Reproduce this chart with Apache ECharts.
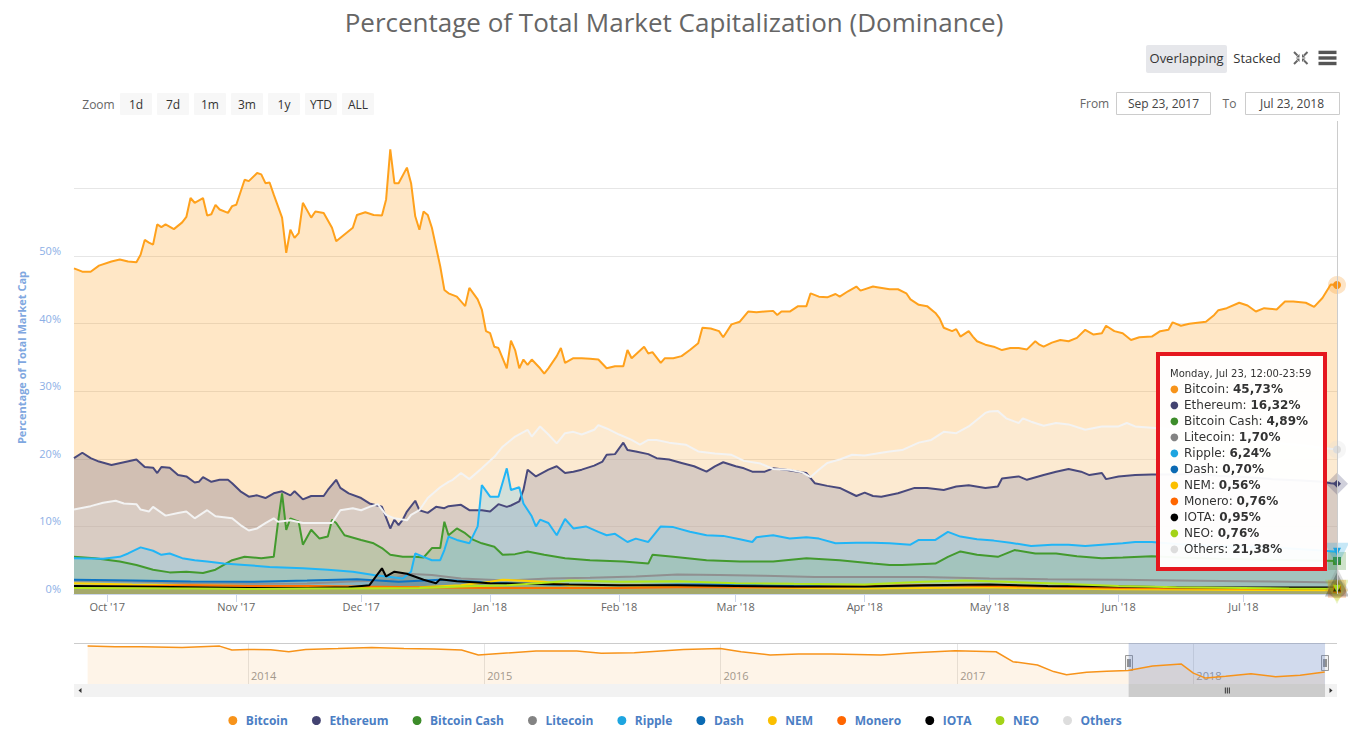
<!DOCTYPE html>
<html>
<head>
<meta charset="utf-8">
<script src="https://cdn.jsdelivr.net/npm/echarts@6/dist/echarts.min.js"></script>
<style>
html,body{margin:0;padding:0;background:#fff;}
#chart{width:1348px;height:738px;}
</style>
</head>
<body>
<div id="chart"></div>
<script>
// ---------------- DATA ----------------
const chartTitle = 'Percentage of Total Market Capitalization (Dominance)';
const yAxisTitle = 'Percentage of Total Market Cap';
const seriesNames = ['Bitcoin','Ethereum','Bitcoin Cash','Litecoin','Ripple','Dash','NEM','Monero','IOTA','NEO','Others'];
const seriesColors = ['#f7931a','#434371','#3d8c2a','#838383','#1ea5e0','#0b6ab3','#fbbf00','#ff6600','#000000','#a3d318','#dddddd'];
const seriesSymbols = ['circle','diamond','rect','triangle','path://M0,0L10,0L5,10Z','circle','diamond','rect','triangle','path://M0,0L10,0L5,10Z','circle'];

const bitcoin = [['2017-09-23',48.2],['2017-09-25',47.7],['2017-09-27',47.7],['2017-09-29',48.6],['2017-10-02',49.2],['2017-10-04',49.5],['2017-10-06',49.2],['2017-10-08',49.1],['2017-10-09',50.2],['2017-10-10',52.4],['2017-10-11',52.0],['2017-10-12',51.7],['2017-10-13',54.7],['2017-10-14',54.3],['2017-10-15',54.7],['2017-10-17',54.0],['2017-10-19',55.0],['2017-10-20',55.8],['2017-10-21',58.6],['2017-10-22',57.9],['2017-10-24',58.6],['2017-10-25',56.0],['2017-10-26',56.2],['2017-10-27',57.6],['2017-10-28',56.9],['2017-10-30',56.4],['2017-10-31',57.4],['2017-11-01',57.6],['2017-11-03',61.3],['2017-11-04',61.1],['2017-11-06',62.3],['2017-11-07',62.1],['2017-11-08',60.8],['2017-11-09',60.9],['2017-11-10',59.1],['2017-11-12',55.7],['2017-11-13',50.5],['2017-11-14',53.9],['2017-11-15',52.7],['2017-11-16',53.4],['2017-11-17',57.9],['2017-11-19',55.7],['2017-11-20',56.6],['2017-11-22',56.4],['2017-11-24',54.2],['2017-11-25',52.2],['2017-11-27',53.2],['2017-11-29',54.2],['2017-11-30',56.1],['2017-12-02',56.5],['2017-12-04',56.1],['2017-12-06',56.0],['2017-12-07',58.4],['2017-12-08',65.8],['2017-12-09',60.8],['2017-12-10',60.8],['2017-12-12',63.1],['2017-12-13',60.8],['2017-12-14',55.9],['2017-12-15',53.9],['2017-12-16',56.6],['2017-12-17',56.1],['2017-12-18',54.2],['2017-12-20',48.5],['2017-12-21',45.0],['2017-12-22',44.5],['2017-12-24',44.0],['2017-12-26',42.6],['2017-12-27',45.3],['2017-12-29',43.6],['2017-12-30',42.1],['2017-12-31',38.9],['2018-01-01',38.6],['2018-01-02',36.6],['2018-01-03',36.4],['2018-01-05',33.4],['2018-01-06',37.5],['2018-01-07',36.1],['2018-01-08',33.4],['2018-01-09',34.7],['2018-01-10',33.9],['2018-01-11',34.7],['2018-01-13',33.4],['2018-01-14',32.6],['2018-01-15',33.4],['2018-01-17',35.2],['2018-01-18',36.4],['2018-01-19',34.2],['2018-01-21',34.9],['2018-01-23',34.9],['2018-01-25',34.8],['2018-01-27',34.7],['2018-01-29',33.4],['2018-01-31',33.7],['2018-02-02',33.7],['2018-02-03',36.1],['2018-02-04',34.9],['2018-02-07',36.6],['2018-02-08',35.6],['2018-02-09',35.8],['2018-02-11',34.2],['2018-02-12',34.9],['2018-02-14',34.9],['2018-02-16',35.2],['2018-02-18',36.1],['2018-02-20',37.1],['2018-02-21',39.4],['2018-02-23',39.3],['2018-02-25',38.9],['2018-02-26',38.0],['2018-02-28',39.9],['2018-03-02',40.3],['2018-03-04',41.8],['2018-03-06',41.7],['2018-03-08',41.8],['2018-03-10',41.9],['2018-03-11',41.3],['2018-03-12',41.8],['2018-03-14',41.8],['2018-03-16',42.6],['2018-03-18',42.6],['2018-03-19',44.5],['2018-03-21',44.0],['2018-03-23',43.9],['2018-03-25',44.4],['2018-03-26',44.0],['2018-03-28',44.8],['2018-03-30',45.5],['2018-03-31',44.9],['2018-04-03',45.5],['2018-04-04',45.4],['2018-04-07',45.1],['2018-04-09',45.1],['2018-04-11',44.5],['2018-04-12',43.6],['2018-04-14',42.8],['2018-04-16',42.6],['2018-04-18',41.6],['2018-04-19',40.8],['2018-04-20',39.4],['2018-04-22',38.9],['2018-04-23',39.2],['2018-04-24',38.1],['2018-04-26',38.9],['2018-04-27',38.1],['2018-04-28',37.4],['2018-04-30',36.9],['2018-05-02',36.6],['2018-05-04',36.1],['2018-05-06',36.4],['2018-05-08',36.4],['2018-05-10',36.2],['2018-05-12',37.4],['2018-05-13',36.9],['2018-05-14',36.6],['2018-05-16',37.2],['2018-05-18',37.6],['2018-05-20',37.4],['2018-05-22',37.9],['2018-05-24',39.1],['2018-05-26',38.4],['2018-05-28',38.6],['2018-05-29',39.7],['2018-05-31',38.9],['2018-06-02',38.6],['2018-06-04',37.6],['2018-06-06',38.0],['2018-06-09',38.1],['2018-06-11',38.9],['2018-06-13',39.1],['2018-06-14',40.2],['2018-06-16',39.7],['2018-06-18',40.0],['2018-06-22',40.3],['2018-06-24',41.3],['2018-06-25',42.0],['2018-06-27',42.3],['2018-06-30',43.1],['2018-07-02',42.7],['2018-07-04',41.8],['2018-07-06',42.3],['2018-07-09',42.1],['2018-07-11',43.3],['2018-07-13',43.3],['2018-07-16',43.1],['2018-07-18',42.5],['2018-07-20',43.8],['2018-07-22',45.8],['2018-07-23 12:00',45.73]];

const ethereum = [['2017-09-23',20.1],['2017-09-25',20.9],['2017-09-27',20.1],['2017-09-29',19.6],['2017-10-02',19.1],['2017-10-05',19.5],['2017-10-08',19.9],['2017-10-10',18.8],['2017-10-12',18.7],['2017-10-13',17.9],['2017-10-14',18.8],['2017-10-16',18.7],['2017-10-18',17.6],['2017-10-20',17.4],['2017-10-22',16.5],['2017-10-23',16.6],['2017-10-24',17.3],['2017-10-26',16.6],['2017-10-28',16.9],['2017-10-30',16.9],['2017-10-31',16.4],['2017-11-02',15.2],['2017-11-04',14.4],['2017-11-06',14.6],['2017-11-08',14.2],['2017-11-10',14.9],['2017-11-12',15.2],['2017-11-14',14.6],['2017-11-15',15.2],['2017-11-17',14.0],['2017-11-19',14.5],['2017-11-22',14.5],['2017-11-23',15.4],['2017-11-25',16.9],['2017-11-26',15.7],['2017-11-28',14.9],['2017-12-01',14.2],['2017-12-03',13.4],['2017-12-06',12.9],['2017-12-08',9.7],['2017-12-09',11.0],['2017-12-10',10.2],['2017-12-11',11.0],['2017-12-12',12.2],['2017-12-14',13.8],['2017-12-15',12.4],['2017-12-17',12.0],['2017-12-19',12.9],['2017-12-21',12.7],['2017-12-22',13.0],['2017-12-25',13.2],['2017-12-27',12.4],['2017-12-30',12.4],['2018-01-01',12.2],['2018-01-03',13.3],['2018-01-05',12.9],['2018-01-06',13.1],['2018-01-08',13.7],['2018-01-09',15.4],['2018-01-10',18.4],['2018-01-12',17.4],['2018-01-15',18.4],['2018-01-17',18.9],['2018-01-19',17.9],['2018-01-21',18.1],['2018-01-23',18.4],['2018-01-26',19.0],['2018-01-28',19.6],['2018-01-29',20.6],['2018-01-31',20.7],['2018-02-02',22.4],['2018-02-03',21.3],['2018-02-05',21.1],['2018-02-08',20.7],['2018-02-10',20.1],['2018-02-13',19.9],['2018-02-16',19.4],['2018-02-19',18.9],['2018-02-22',18.1],['2018-02-24',18.9],['2018-02-26',19.5],['2018-03-01',18.9],['2018-03-03',18.6],['2018-03-05',18.1],['2018-03-08',18.1],['2018-03-10',18.6],['2018-03-13',18.4],['2018-03-16',18.1],['2018-03-18',17.9],['2018-03-20',16.4],['2018-03-23',16.0],['2018-03-26',15.7],['2018-03-30',14.5],['2018-04-01',15.0],['2018-04-03',14.5],['2018-04-05',14.4],['2018-04-09',14.9],['2018-04-13',15.7],['2018-04-16',15.7],['2018-04-20',15.4],['2018-04-23',15.9],['2018-04-26',16.1],['2018-04-30',15.7],['2018-05-03',15.9],['2018-05-04',17.1],['2018-05-08',17.4],['2018-05-10',16.9],['2018-05-14',17.6],['2018-05-17',18.1],['2018-05-20',18.5],['2018-05-23',18.1],['2018-05-25',17.6],['2018-05-28',17.9],['2018-05-29',17.0],['2018-06-01',17.4],['2018-06-05',17.6],['2018-06-09',17.7],['2018-06-15',17.7],['2018-06-20',17.8],['2018-06-25',17.5],['2018-07-01',17.3],['2018-07-08',17.0],['2018-07-15',16.8],['2018-07-20',16.6],['2018-07-22',16.4],['2018-07-23 12:00',16.32]];

const bitcoinCash = [['2017-09-23',5.5],['2017-09-28',5.3],['2017-10-04',4.8],['2017-10-08',4.3],['2017-10-12',3.6],['2017-10-16',3.2],['2017-10-20',3.3],['2017-10-24',3.1],['2017-10-27',3.6],['2017-10-31',5.0],['2017-11-03',5.5],['2017-11-07',5.3],['2017-11-10',5.5],['2017-11-11',10.5],['2017-11-12',14.9],['2017-11-13',9.5],['2017-11-14',11.2],['2017-11-16',10.7],['2017-11-17',7.3],['2017-11-19',9.5],['2017-11-21',8.2],['2017-11-23',8.5],['2017-11-24',11.0],['2017-11-25',10.5],['2017-11-27',8.7],['2017-12-01',8.0],['2017-12-04',7.5],['2017-12-06',6.8],['2017-12-08',5.8],['2017-12-11',5.5],['2017-12-14',5.5],['2017-12-16',5.4],['2017-12-18',6.8],['2017-12-20',6.8],['2017-12-21',10.7],['2017-12-22',8.7],['2017-12-24',9.7],['2017-12-26',9.0],['2017-12-28',8.0],['2017-12-30',7.5],['2018-01-02',7.0],['2018-01-04',5.8],['2018-01-07',5.9],['2018-01-10',6.3],['2018-01-14',5.8],['2018-01-19',5.3],['2018-01-25',5.0],['2018-02-02',4.8],['2018-02-08',4.5],['2018-02-09',5.8],['2018-02-14',5.5],['2018-02-22',5.0],['2018-03-02',4.8],['2018-03-10',4.8],['2018-03-18',5.3],['2018-03-26',5.0],['2018-04-03',4.5],['2018-04-07',4.3],['2018-04-10',4.3],['2018-04-18',4.5],['2018-04-21',5.5],['2018-04-24',6.3],['2018-04-28',5.8],['2018-05-03',5.5],['2018-05-07',6.5],['2018-05-12',6.0],['2018-05-17',6.0],['2018-05-22',5.6],['2018-05-28',5.3],['2018-06-02',5.4],['2018-06-09',5.6],['2018-06-16',5.4],['2018-06-25',5.2],['2018-07-05',5.1],['2018-07-15',5.0],['2018-07-23 12:00',4.89]];

const litecoin = [['2017-09-23',1.95],['2017-10-07',1.85],['2017-10-21',1.6],['2017-11-04',1.5],['2017-11-18',1.55],['2017-11-30',1.9],['2017-12-08',2.0],['2017-12-12',3.0],['2017-12-18',2.8],['2017-12-25',2.3],['2018-01-05',2.0],['2018-01-15',2.3],['2018-01-25',2.4],['2018-02-05',2.6],['2018-02-15',2.9],['2018-02-25',2.8],['2018-03-08',2.7],['2018-03-20',2.5],['2018-04-01',2.5],['2018-04-15',2.5],['2018-05-01',2.3],['2018-05-15',2.2],['2018-06-01',2.1],['2018-06-15',2.0],['2018-07-01',1.9],['2018-07-12',1.8],['2018-07-23 12:00',1.70]];

const ripple = [['2017-09-23',5.3],['2017-09-30',5.2],['2017-10-04',5.5],['2017-10-06',6.0],['2017-10-09',6.9],['2017-10-12',6.4],['2017-10-14',5.8],['2017-10-16',6.0],['2017-10-19',5.3],['2017-10-22',5.0],['2017-10-25',4.8],['2017-10-29',4.5],['2017-11-03',4.3],['2017-11-09',4.0],['2017-11-17',3.8],['2017-11-23',3.6],['2017-11-29',3.3],['2017-12-04',2.8],['2017-12-11',2.3],['2017-12-13',3.3],['2017-12-14',6.0],['2017-12-16',5.5],['2017-12-18',5.0],['2017-12-20',5.0],['2017-12-21',6.5],['2017-12-22',8.5],['2017-12-24',8.0],['2017-12-27',7.5],['2017-12-29',10.0],['2017-12-30',16.1],['2018-01-01',14.4],['2018-01-03',14.4],['2018-01-05',18.6],['2018-01-06',15.4],['2018-01-08',15.8],['2018-01-09',13.4],['2018-01-11',11.5],['2018-01-12',10.0],['2018-01-13',11.0],['2018-01-15',10.5],['2018-01-17',8.7],['2018-01-19',11.1],['2018-01-21',9.7],['2018-01-24',10.0],['2018-01-27',9.2],['2018-01-29',8.7],['2018-01-31',8.9],['2018-02-03',7.7],['2018-02-05',8.2],['2018-02-08',7.7],['2018-02-11',10.0],['2018-02-14',9.9],['2018-02-18',9.2],['2018-02-22',8.7],['2018-02-26',8.6],['2018-03-02',8.1],['2018-03-05',7.7],['2018-03-06',8.4],['2018-03-10',8.7],['2018-03-14',8.2],['2018-03-18',8.4],['2018-03-21',8.2],['2018-03-25',7.5],['2018-03-30',7.6],['2018-04-03',7.6],['2018-04-07',7.5],['2018-04-12',7.3],['2018-04-14',8.0],['2018-04-18',8.0],['2018-04-21',9.2],['2018-04-24',8.5],['2018-04-28',8.1],['2018-05-02',7.9],['2018-05-06',7.6],['2018-05-11',7.1],['2018-05-16',7.3],['2018-05-20',7.3],['2018-05-24',7.1],['2018-05-28',7.3],['2018-06-02',7.5],['2018-06-05',7.7],['2018-06-09',7.7],['2018-06-15',7.4],['2018-06-22',7.2],['2018-07-01',7.0],['2018-07-10',6.8],['2018-07-18',6.5],['2018-07-23 12:00',6.24]];

const dash = [['2017-09-23',2.1],['2017-10-07',2.0],['2017-10-21',1.85],['2017-11-04',1.8],['2017-11-18',2.0],['2017-11-30',2.2],['2017-12-10',1.8],['2017-12-20',2.1],['2018-01-01',1.7],['2018-01-15',1.4],['2018-02-01',1.3],['2018-02-15',1.4],['2018-03-01',1.4],['2018-03-15',1.2],['2018-04-01',1.1],['2018-04-15',1.0],['2018-05-01',1.1],['2018-05-15',1.1],['2018-06-01',0.9],['2018-06-15',0.85],['2018-07-01',0.8],['2018-07-12',0.75],['2018-07-23 12:00',0.70]];

const nem = [['2017-09-23',1.6],['2017-10-07',1.4],['2017-10-21',1.3],['2017-11-04',1.2],['2017-11-18',1.1],['2017-12-01',1.0],['2017-12-15',1.0],['2017-12-25',1.3],['2018-01-01',1.8],['2018-01-04',2.1],['2018-01-08',2.0],['2018-01-14',1.8],['2018-01-20',1.3],['2018-02-01',1.3],['2018-02-15',1.2],['2018-03-01',1.0],['2018-03-15',0.9],['2018-04-01',0.8],['2018-04-15',0.9],['2018-05-01',1.0],['2018-05-15',0.8],['2018-06-01',0.7],['2018-06-15',0.65],['2018-07-01',0.6],['2018-07-23 12:00',0.56]];

const monero = [['2017-09-23',1.1],['2017-10-07',1.1],['2017-10-21',1.3],['2017-11-04',1.2],['2017-11-18',1.2],['2017-12-01',1.1],['2017-12-15',1.0],['2018-01-01',0.9],['2018-01-15',0.9],['2018-02-01',0.9],['2018-02-15',1.0],['2018-03-01',1.0],['2018-03-15',1.0],['2018-04-01',1.2],['2018-04-15',1.3],['2018-05-01',1.2],['2018-05-15',1.1],['2018-06-01',0.9],['2018-06-15',0.85],['2018-07-01',0.8],['2018-07-23 12:00',0.76]];

const iota = [['2017-09-23',1.2],['2017-10-07',1.1],['2017-10-21',1.0],['2017-11-04',0.9],['2017-11-18',0.9],['2017-11-28',1.0],['2017-12-03',1.3],['2017-12-06',3.8],['2017-12-07',2.6],['2017-12-09',3.3],['2017-12-12',3.0],['2017-12-16',2.1],['2017-12-19',1.6],['2017-12-20',2.2],['2017-12-24',1.9],['2018-01-01',1.6],['2018-01-10',1.5],['2018-01-20',1.4],['2018-02-01',1.3],['2018-02-15',1.3],['2018-03-01',1.2],['2018-03-15',1.1],['2018-04-01',1.1],['2018-04-15',1.3],['2018-05-01',1.4],['2018-05-15',1.2],['2018-06-01',1.1],['2018-06-15',1.0],['2018-07-01',0.98],['2018-07-23 12:00',0.95]];

const neo = [['2017-09-23',0.9],['2017-10-07',0.85],['2017-10-21',0.8],['2017-11-04',0.75],['2017-11-18',0.8],['2017-12-01',0.8],['2017-12-15',0.9],['2017-12-25',1.1],['2018-01-05',1.3],['2018-01-15',1.7],['2018-01-20',2.0],['2018-02-01',1.8],['2018-02-15',1.9],['2018-03-01',1.6],['2018-03-15',1.5],['2018-04-01',1.4],['2018-04-15',1.8],['2018-04-25',2.0],['2018-05-05',1.8],['2018-05-15',1.6],['2018-06-01',1.2],['2018-06-15',1.0],['2018-07-01',0.9],['2018-07-12',0.8],['2018-07-23 12:00',0.76]];

const others = [['2017-09-23',12.5],['2017-09-27',13.0],['2017-09-30',13.5],['2017-10-03',13.8],['2017-10-05',13.4],['2017-10-08',13.3],['2017-10-09',12.5],['2017-10-11',12.2],['2017-10-12',12.9],['2017-10-15',11.6],['2017-10-18',12.0],['2017-10-20',12.2],['2017-10-22',11.2],['2017-10-25',12.4],['2017-10-27',11.5],['2017-10-31',11.2],['2017-11-02',10.2],['2017-11-04',9.4],['2017-11-06',9.7],['2017-11-08',10.5],['2017-11-10',11.2],['2017-11-11',10.7],['2017-11-14',10.9],['2017-11-17',10.5],['2017-11-20',10.5],['2017-11-24',10.5],['2017-11-26',12.4],['2017-11-29',12.7],['2017-12-01',12.4],['2017-12-03',12.9],['2017-12-05',13.3],['2017-12-07',11.7],['2017-12-09',11.2],['2017-12-12',10.9],['2017-12-13',11.7],['2017-12-15',12.4],['2017-12-17',14.2],['2017-12-20',15.8],['2017-12-22',16.6],['2017-12-23',16.9],['2017-12-25',17.9],['2017-12-27',17.0],['2017-12-30',18.6],['2018-01-02',20.3],['2018-01-04',21.8],['2018-01-06',22.8],['2018-01-07',23.3],['2018-01-10',24.3],['2018-01-11',23.3],['2018-01-13',24.8],['2018-01-15',23.6],['2018-01-17',22.3],['2018-01-19',23.8],['2018-01-21',24.0],['2018-01-23',23.6],['2018-01-26',24.3],['2018-01-27',25.0],['2018-01-29',24.5],['2018-02-01',23.6],['2018-02-04',22.8],['2018-02-06',22.1],['2018-02-08',22.8],['2018-02-10',22.8],['2018-02-13',22.4],['2018-02-17',22.1],['2018-02-20',21.1],['2018-02-24',20.8],['2018-02-28',20.6],['2018-03-03',19.7],['2018-03-07',19.3],['2018-03-10',18.5],['2018-03-14',18.4],['2018-03-17',18.0],['2018-03-19',17.3],['2018-03-21',18.4],['2018-03-23',19.4],['2018-03-26',19.9],['2018-03-29',20.6],['2018-04-01',20.5],['2018-04-05',20.9],['2018-04-07',21.1],['2018-04-10',21.3],['2018-04-14',22.4],['2018-04-17',22.8],['2018-04-20',24.0],['2018-04-23',23.8],['2018-04-26',24.8],['2018-04-30',26.8],['2018-05-01',27.0],['2018-05-03',27.1],['2018-05-05',26.0],['2018-05-08',25.3],['2018-05-09',26.0],['2018-05-11',25.5],['2018-05-14',24.9],['2018-05-17',25.3],['2018-05-20',25.1],['2018-05-24',24.3],['2018-05-28',24.8],['2018-06-01',24.8],['2018-06-03',25.3],['2018-06-05',24.8],['2018-06-09',24.6],['2018-06-15',24.3],['2018-06-20',23.8],['2018-06-25',23.3],['2018-07-01',22.8],['2018-07-08',22.4],['2018-07-15',22.0],['2018-07-20',21.6],['2018-07-23 12:00',21.38]];

const seriesData = [bitcoin, ethereum, bitcoinCash, litecoin, ripple, dash, nem, monero, iota, neo, others];

// long-range Bitcoin dominance shown in the navigator
const bitcoinHistory = [['2013-04-28',95.0],['2013-06-10',94.0],['2013-07-20',93.7],['2013-09-21',92.5],['2013-11-18',95.0],['2013-12-07',87.4],['2014-01-01',88.7],['2014-02-05',88.0],['2014-03-05',84.1],['2014-03-31',88.7],['2014-05-20',90.5],['2014-07-11',92.5],['2014-08-30',90.6],['2014-10-15',89.5],['2014-11-27',87.4],['2014-12-23',77.8],['2015-01-30',81.1],['2015-03-22',85.5],['2015-05-24',85.5],['2015-07-01',81.1],['2015-08-21',82.2],['2015-11-05',88.7],['2016-01-01',90.6],['2016-02-02',84.1],['2016-03-18',77.8],['2016-05-01',79.7],['2016-06-21',79.7],['2016-09-05',77.8],['2016-10-26',82.2],['2016-12-29',86.0],['2017-03-02',84.1],['2017-03-28',65.0],['2017-05-05',58.7],['2017-05-30',45.9],['2017-06-19',39.7],['2017-07-20',44.8],['2017-08-20',46.5],['2017-09-22',47.9],['2017-10-30',56.8],['2017-12-13',60.6],['2018-01-01',42.9],['2018-01-20',33.4],['2018-02-20',37.0],['2018-03-31',41.6],['2018-05-08',36.0],['2018-06-15',39.0],['2018-07-23',45.0]];

const monthTicks = ['2017-10-01','2017-11-01','2017-12-01','2018-01-01','2018-02-01','2018-03-01','2018-04-01','2018-05-01','2018-06-01','2018-07-01'];
const yearTicks = ['2014-01-01','2015-01-01','2016-01-01','2017-01-01','2018-01-01'];
const monthNames = ['Jan','Feb','Mar','Apr','May','Jun','Jul','Aug','Sep','Oct','Nov','Dec'];
const viewStart = '2017-09-23';
const viewEnd = '2018-07-23 12:00';
const navStart = '2013-04-07';
const navEnd = '2018-08-11';
const yMax = 70, yStep = 10, yLabelMax = 50;
const zoomButtons = ['1d','7d','1m','3m','1y','YTD','ALL'];
const modeButtons = ['Overlapping','Stacked'];
const fromText = 'Sep 23, 2017';
const toText = 'Jul 23, 2018';
const tooltipHeader = 'Monday, Jul 23, 12:00-23:59';

// ---------------- CHART ----------------
const FONT = '"Open Sans", sans-serif';
const chart = echarts.init(document.getElementById('chart'), null, {renderer: 'svg'});

function ts(s) {
  const p = s.split(/[- :]/).map(Number);
  return new Date(p[0], p[1] - 1, p[2], p[3] || 0, p[4] || 0).getTime();
}
function toPoints(arr) { return arr.map(d => [ts(d[0]), d[1]]); }
function rgba(hex, a) {
  const n = parseInt(hex.slice(1), 16);
  return 'rgba(' + ((n >> 16) & 255) + ',' + ((n >> 8) & 255) + ',' + (n & 255) + ',' + a + ')';
}
function fmtPct(v) { return v.toFixed(2).replace('.', ',') + '%'; }

const mainSeries = seriesNames.map((name, i) => ({
  name: name,
  type: 'line',
  xAxisIndex: 0,
  yAxisIndex: 0,
  data: toPoints(seriesData[i]),
  showSymbol: false,
  symbol: seriesSymbols[i],
  symbolSize: 8,
  lineStyle: {width: 2, color: seriesColors[i]},
  itemStyle: {color: seriesColors[i], borderColor: '#fff', borderWidth: 1},
  areaStyle: {color: seriesColors[i], opacity: 0.25},
  emphasis: {
    scale: false,
    lineStyle: {width: 2},
    areaStyle: {opacity: 0.25},
    itemStyle: {borderColor: rgba(seriesColors[i], 0.25), borderWidth: 10}
  },
  animation: false
}));

const navSeries = {
  name: 'navigator',
  type: 'line',
  xAxisIndex: 1,
  yAxisIndex: 1,
  data: toPoints(bitcoinHistory),
  showSymbol: false,
  silent: true,
  lineStyle: {width: 1.5, color: '#f7931a'},
  areaStyle: {color: '#f7931a', opacity: 0.1},
  emphasis: {disabled: true},
  markArea: {
    silent: true,
    itemStyle: {color: 'rgba(102,133,194,0.3)'},
    data: [[{xAxis: ts(viewStart)}, {xAxis: ts(viewEnd)}]]
  },
  animation: false
};

function tooltipHtml() {
  let h = '<div style="font-size:10px;line-height:14px;height:14px;white-space:nowrap;color:#333">' + tooltipHeader + '</div>';
  seriesNames.forEach((n, i) => {
    const d = seriesData[i];
    const v = d[d.length - 1][1];
    h += '<div style="font-size:12px;line-height:16px;height:16px;overflow:hidden;white-space:nowrap;color:#333">' +
      '<span style="color:' + seriesColors[i] + ';display:inline-block;width:14px;font-size:10px;line-height:16px;vertical-align:top">\u25CF</span>' +
      n + ': <b>' + fmtPct(v) + '</b></div>';
  });
  return h;
}

const option = {
  animation: false,
  backgroundColor: '#ffffff',
  title: {
    text: chartTitle,
    left: 'center',
    top: 1,
    textStyle: {fontFamily: FONT, fontSize: 26, fontWeight: 'normal', color: '#666666', lineHeight: 32}
  },
  legend: {
    data: seriesNames,
    top: 709,
    left: 'center',
    icon: 'circle',
    itemWidth: 16,
    itemHeight: 11,
    itemGap: 22,
    selectedMode: false,
    textStyle: {fontFamily: FONT, fontSize: 12, fontWeight: 'bold', color: '#4b7ec4'}
  },
  grid: [
    {left: 74, right: 11, top: 121, bottom: 144, containLabel: false},
    {left: 74, right: 11, top: 643, height: 41, containLabel: false}
  ],
  tooltip: {
    trigger: 'axis',
    triggerOn: 'none',
    alwaysShowContent: true,
    position: [1156, 352],
    backgroundColor: 'rgba(255,255,255,0.96)',
    borderColor: '#e5171f',
    borderWidth: 4,
    padding: [11, 6, 6, 10],
    transitionDuration: 0,
    extraCssText: 'box-sizing:border-box;width:171px;height:219px;border-radius:0;box-shadow:none;',
    textStyle: {fontFamily: '"DejaVu Sans", sans-serif', fontSize: 12, color: '#333'},
    axisPointer: {type: 'line', lineStyle: {color: '#cccccc', width: 1, type: 'solid'}, animation: false},
    formatter: tooltipHtml
  },
  xAxis: [
    {
      type: 'value',
      gridIndex: 0,
      min: ts(viewStart),
      max: ts(viewEnd),
      axisLine: {show: true, lineStyle: {color: '#ccd6eb'}},
      axisTick: {show: true, customValues: monthTicks.map(ts), length: 8, lineStyle: {color: '#ccd6eb'}},
      axisLabel: {
        customValues: monthTicks.map(ts),
        color: '#666666',
        fontFamily: FONT,
        fontSize: 11,
        margin: 7,
        formatter: v => { const d = new Date(v); return monthNames[d.getMonth()] + " '" + String(d.getFullYear()).slice(2); }
      },
      splitLine: {show: false},
      axisPointer: {type: 'line', lineStyle: {color: '#cccccc', width: 1, type: 'solid'}, label: {show: false}}
    },
    {
      type: 'value',
      gridIndex: 1,
      min: ts(navStart),
      max: ts(navEnd),
      axisLine: {show: false},
      axisTick: {show: false, customValues: yearTicks.map(ts)},
      axisLabel: {
        customValues: yearTicks.map(ts),
        inside: true,
        align: 'left',
        verticalAlign: 'bottom',
        margin: 3,
        padding: [0, 0, 0, 3],
        color: '#999999',
        fontFamily: FONT,
        fontSize: 11,
        formatter: v => String(new Date(v).getFullYear())
      },
      splitLine: {show: true, lineStyle: {color: '#e6e6e6', width: 1}},
      axisPointer: {show: false}
    }
  ],
  yAxis: [
    {
      type: 'value',
      gridIndex: 0,
      min: 0,
      max: yMax,
      interval: yStep,
      name: yAxisTitle,
      nameLocation: 'middle',
      nameRotate: 90,
      nameGap: 47,
      nameTextStyle: {fontFamily: FONT, fontSize: 11, fontWeight: 'bold', color: '#7fa7e0'},
      axisLine: {show: false},
      axisTick: {show: false},
      axisLabel: {
        color: '#8cafe6',
        fontFamily: FONT,
        fontSize: 11,
        margin: 13,
        verticalAlign: 'bottom',
        showMaxLabel: false,
        formatter: v => (v <= yLabelMax ? v + '%' : '')
      },
      splitLine: {show: true, showMaxLine: false, lineStyle: {color: '#e6e6e6', width: 1}},
      axisPointer: {show: false}
    },
    {
      type: 'value',
      gridIndex: 1,
      min: 22,
      max: 101,
      show: false,
      splitLine: {show: false},
      axisPointer: {show: false}
    }
  ],
  series: mainSeries.concat([navSeries])
};

chart.setOption(option);

// ---------- interface chrome (buttons, navigator handles, scrollbar) ----------
const g = [];
function txt(t, x, y, size, color, align, weight) {
  g.push({type: 'text', silent: true, style: {text: t, x: x, y: y, fill: color, font: (weight || 'normal') + ' ' + size + 'px ' + FONT, textAlign: align || 'center', textVerticalAlign: 'middle'}});
}
g.push({type: 'rect', silent: true, shape: {x: 1146, y: 45, width: 81, height: 28, r: 2}, style: {fill: '#e6e7eb'}});
txt(modeButtons[0], 1186.5, 58, 13, '#333333');
txt(modeButtons[1], 1257, 58, 13, '#333333');
[[1294, 52, 1, 1], [1307.5, 52, -1, 1], [1294, 64, 1, -1], [1307.5, 64, -1, -1]].forEach(([x, y, sx, sy]) => {
  g.push({type: 'line', silent: true, shape: {x1: x, y1: y, x2: x + sx * 3.5, y2: y + sy * 3.5}, style: {stroke: '#666', lineWidth: 2}});
  g.push({type: 'polygon', silent: true, shape: {points: [[x + sx * 5.5, y + sy * 5.5], [x + sx * 5.5, y + sy * 2], [x + sx * 2, y + sy * 5.5]]}, style: {fill: '#666'}});
});
[50.7, 56.3, 61.8].forEach(y => g.push({type: 'rect', silent: true, shape: {x: 1318.5, y: y, width: 18, height: 3.4}, style: {fill: '#555555'}}));
txt('Zoom', 98.5, 104, 12, '#666666');
zoomButtons.forEach((b, i) => {
  const x = 120 + i * 37;
  g.push({type: 'rect', silent: true, shape: {x: x, y: 93, width: 32, height: 22, r: 1}, style: {fill: '#f7f7f7'}});
  txt(b, x + 16, 104, 12, '#333333');
});
txt('From', 1094.5, 103.5, 12, '#666666');
g.push({type: 'rect', silent: true, shape: {x: 1116.5, y: 92.5, width: 94, height: 22}, style: {fill: '#fff', stroke: '#cccccc', lineWidth: 1}});
txt(fromText, 1163.5, 103.5, 12, '#444444');
txt('To', 1229.5, 103.5, 12, '#666666');
g.push({type: 'rect', silent: true, shape: {x: 1245.5, y: 92.5, width: 94, height: 22}, style: {fill: '#fff', stroke: '#cccccc', lineWidth: 1}});
txt(toText, 1292, 103.5, 12, '#444444');

const x1 = chart.convertToPixel({xAxisIndex: 1}, ts(viewStart));
const x2 = chart.convertToPixel({xAxisIndex: 1}, ts(viewEnd));
g.push({type: 'line', silent: true, shape: {x1: 74, y1: 643.5, x2: 1337, y2: 643.5}, style: {stroke: '#cccccc', lineWidth: 1}});
g.push({type: 'rect', silent: true, shape: {x: 74, y: 684, width: 1263, height: 13}, style: {fill: '#f2f2f2'}});
g.push({type: 'rect', silent: true, shape: {x: x1, y: 684, width: x2 - x1, height: 13}, style: {fill: '#cccccc'}});
[-2, 0, 2].forEach(o => g.push({type: 'line', silent: true, shape: {x1: (x1 + x2) / 2 + o + 0.5, y1: 687.5, x2: (x1 + x2) / 2 + o + 0.5, y2: 693.5}, style: {stroke: '#333', lineWidth: 1}}));
g.push({type: 'polygon', silent: true, shape: {points: [[78.5, 690.5], [81.5, 688], [81.5, 693]]}, style: {fill: '#333'}});
g.push({type: 'polygon', silent: true, shape: {points: [[1332.5, 690.5], [1329.5, 688], [1329.5, 693]]}, style: {fill: '#333'}});
[x1, x2].forEach(x => {
  g.push({type: 'rect', silent: true, shape: {x: Math.round(x) - 3.5, y: 655.5, width: 7, height: 15}, style: {fill: '#f2f2f2', stroke: '#999999', lineWidth: 1}});
  [-1, 1].forEach(o => g.push({type: 'line', silent: true, shape: {x1: Math.round(x) + o, y1: 659, x2: Math.round(x) + o, y2: 667}, style: {stroke: '#333', lineWidth: 1}}));
});

chart.setOption({graphic: {elements: g}});

const px = chart.convertToPixel({xAxisIndex: 0}, ts(viewEnd)) - 1;
chart.dispatchAction({type: 'showTip', x: px, y: 300});
</script>
</body>
</html>
